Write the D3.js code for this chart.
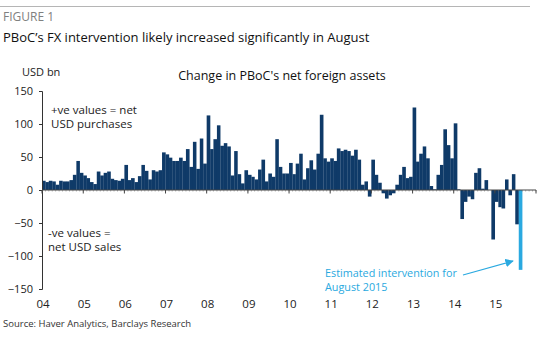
<!DOCTYPE html>
<html>
<head>
<meta charset="utf-8">
<script src="https://cdnjs.cloudflare.com/ajax/libs/d3/7.8.5/d3.min.js"></script>
<style>
  body { margin:0; background:#fff; }
  svg text { font-family: "Open Sans", "Noto Sans", sans-serif; }
</style>
</head>
<body>
<div id="chart"></div>
<script>
// monthly change in PBoC net foreign assets, USD bn, Jan 2004 .. Jul 2015
var startYear = 2004;
var monthlyChange = [
    14, 12, 14, 13, 8, 14, 13, 13, 15, 23, 44, 26,      // 2004
    22, 18, 12, 9, 28, 22, 26, 28, 17, 15, 14, 17,      // 2005
    38, 15, 18, 12, 21, 38, 29, 16, 30, 28, 30, 57,     // 2006
    54, 49, 44, 44, 49, 44, 62, 35, 73, 32, 78, 40,     // 2007
    113, 62, 77, 98, 67, 71, 66, 22, 59, 24, 10, 30,    // 2008
    23, 20, 16, 31, 46, 13, 25, 20, 77, 35, 25, 25,     // 2009
    41, 24, 40, 55, 16, 33, 45, 31, 55, 114, 48, 43,    // 2010
    48, 44, 63, 59, 61, 59, 52, 61, 46, 8, 13, -10,     // 2011
    46, 23, 11, -5, -13, -8, -5, 8, 23, 35, 18, 20,     // 2012
    125, 43, 55, 66, 48, 6, 1, 23, 38, 92, 68, 48,      // 2013
    101, 1, -44, -18, -10, -14, 26, 33, 2, 15, 0, -75,  // 2014
    -18, -26, -28, 16, -8, 24, -52                      // 2015
];
var augustEstimate = -121;   // Aug 2015
var yTicks = [150, 100, 50, 0, -50, -100, -150];
var yearLabels = ["04","05","06","07","08","09","10","11","12","13","14","15"];

var width = 553, height = 343;
var navy = "#0f3a68", cyan = "#2aa9e0";

var svg = d3.select("#chart").append("svg")
    .attr("width", width)
    .attr("height", height);

var data = monthlyChange.map(function(v, i){
    return {date: new Date(startYear, i, 1), value: v, est: false};
});
data.push({date: new Date(startYear, monthlyChange.length, 1), value: augustEstimate, est: true});

var x = d3.scaleTime()
    .domain([new Date(2004, 0, 1), new Date(2016, 0, 1)])
    .range([42, 536]);
var y = d3.scaleLinear()
    .domain([-150, 150])
    .range([289, 91]);

// header
svg.append("line")
    .attr("x1", 0).attr("x2", 530)
    .attr("y1", 6.5).attr("y2", 6.5)
    .attr("stroke", "#b5b5b5");
svg.append("text")
    .attr("x", 3).attr("y", 21)
    .attr("font-size", 12).attr("fill", "#808080")
    .text("FIGURE 1");
svg.append("text")
    .attr("x", 3).attr("y", 42)
    .attr("font-size", 13).attr("fill", "#111")
    .text("PBoC\u2019s FX intervention likely increased significantly in August");

svg.append("text")
    .attr("x", 22).attr("y", 76)
    .attr("font-size", 11).attr("fill", "#222")
    .text("USD bn");
svg.append("text")
    .attr("x", 282).attr("y", 80)
    .attr("text-anchor", "middle")
    .attr("font-size", 12.5).attr("fill", "#111")
    .text("Change in PBoC's net foreign assets");

// bars, drawn edge to edge like the original
svg.selectAll(".bar")
    .data(data)
    .enter().append("rect")
    .attr("class", "bar")
    .attr("x", function(d){ return x(d.date); })
    .attr("width", function(d){ return x(d3.timeMonth.offset(d.date, 1)) - x(d.date) + 0.15; })
    .attr("y", function(d){ return y(Math.max(0, d.value)); })
    .attr("height", function(d){ return Math.abs(y(d.value) - y(0)); })
    .attr("fill", function(d){ return d.est ? cyan : navy; });

// y axis
var yAxis = d3.axisLeft(y).tickValues(yTicks).tickSize(3).tickPadding(6);
var gy = svg.append("g")
    .attr("transform", "translate(42,0)")
    .call(yAxis);
gy.select(".domain").attr("stroke", "#333");
gy.selectAll(".tick line").attr("stroke", "#333");
gy.selectAll("text")
    .attr("font-size", 11)
    .attr("fill", "#222")
    .style("font-family", "'Open Sans', sans-serif");

// zero line with monthly and yearly ticks
var gx = svg.append("g").attr("transform", "translate(0," + y(0) + ")");
gx.append("line")
    .attr("x1", x.range()[0]).attr("x2", x.range()[1])
    .attr("stroke", "#444");
gx.selectAll(".mtick")
    .data(x.ticks(d3.timeMonth.every(1)))
    .enter().append("line")
    .attr("x1", function(d){ return x(d); })
    .attr("x2", function(d){ return x(d); })
    .attr("y1", 0).attr("y2", 1.5)
    .attr("stroke", "#666").attr("stroke-width", 0.5);
gx.selectAll(".ytick")
    .data(x.ticks(d3.timeYear.every(1)))
    .enter().append("line")
    .attr("x1", function(d){ return x(d); })
    .attr("x2", function(d){ return x(d); })
    .attr("y1", 0).attr("y2", 3.5)
    .attr("stroke", "#444");

// year labels along the bottom
svg.selectAll(".ylab")
    .data(yearLabels)
    .enter().append("text")
    .attr("x", function(d, i){ return x(new Date(startYear + i, 0, 1)) + 1; })
    .attr("y", 308)
    .attr("text-anchor", "middle")
    .attr("font-size", 11.5).attr("fill", "#222")
    .text(function(d){ return d; });

// notes
var notes = [
    {t:"+ve values = net", x:51, y:114},
    {t:"USD purchases", x:51, y:128},
    {t:"-ve values =", x:48, y:237},
    {t:"net USD sales", x:48, y:251}
];
svg.selectAll(".note")
    .data(notes)
    .enter().append("text")
    .attr("x", function(d){ return d.x; })
    .attr("y", function(d){ return d.y; })
    .attr("font-size", 11.5).attr("fill", "#222")
    .text(function(d){ return d.t; });

// annotation for the estimate
svg.append("text")
    .attr("x", 325).attr("y", 277)
    .attr("font-size", 10.8).attr("fill", cyan)
    .text("Estimated intervention for");
svg.append("text")
    .attr("x", 325).attr("y", 291)
    .attr("font-size", 10.8).attr("fill", cyan)
    .text("August 2015");

svg.append("defs").append("marker")
    .attr("id", "arrow")
    .attr("viewBox", "0 0 10 10")
    .attr("refX", 9).attr("refY", 5)
    .attr("markerWidth", 7).attr("markerHeight", 7)
    .attr("orient", "auto")
    .append("path")
    .attr("d", "M0,0L10,5L0,10z")
    .attr("fill", cyan);
svg.append("line")
    .attr("x1", 463).attr("y1", 275)
    .attr("x2", 513).attr("y2", 261)
    .attr("stroke", cyan).attr("stroke-width", 1.2)
    .attr("marker-end", "url(#arrow)");

svg.append("text")
    .attr("x", 3).attr("y", 327)
    .attr("font-size", 9.5).attr("fill", "#333")
    .text("Source: Haver Analytics, Barclays Research");
</script>
</body>
</html>
